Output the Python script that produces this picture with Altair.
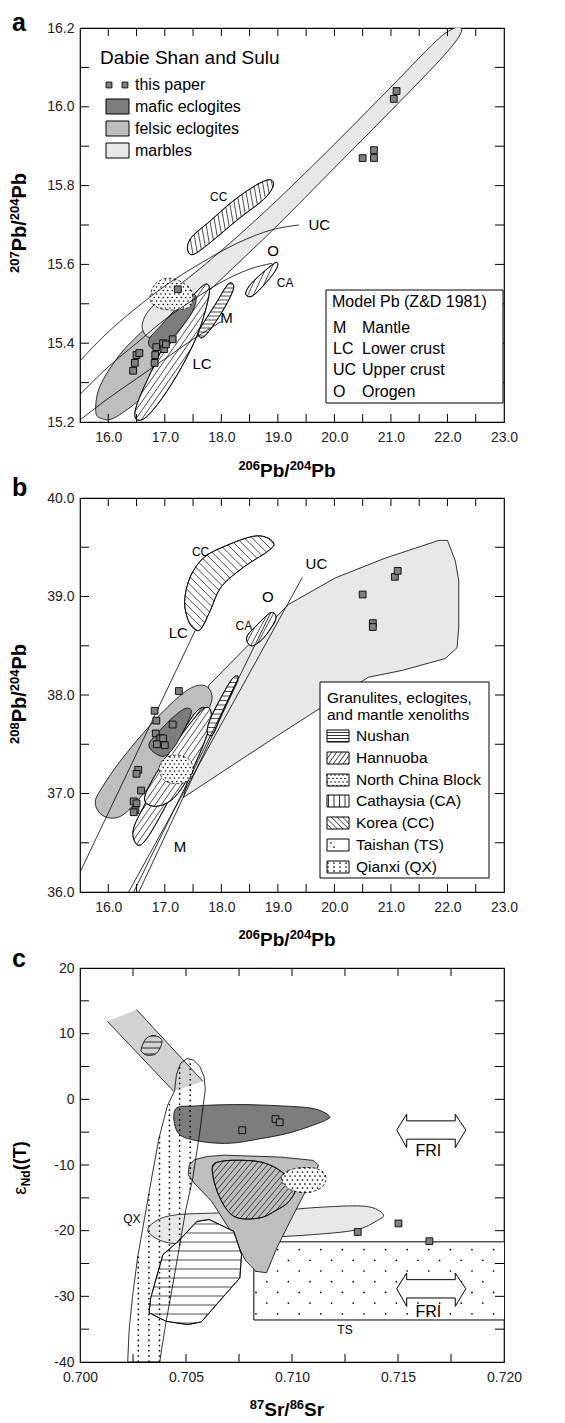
import altair as alt
import numpy as np
import pandas as pd

FONT = "Liberation Sans"
W, H, TL = 424, 394, 8
DARK, MID, LIGHT, BAND = "#7d7d7d", "#bebebe", "#e8e8e8", "#d2d2d2"

# ---------------- Panel a : 207Pb/204Pb vs 206Pb/204Pb ----------------
A_XDOM = [15.5, 23.0]
A_YDOM = [15.2, 16.2]
A_XLAB = [16.0, 17.0, 18.0, 19.0, 20.0, 21.0, 22.0, 23.0]
A_YLAB = [15.2, 15.4, 15.6, 15.8, 16.0, 16.2]
A_XTICK = [16.0, 16.5, 17.0, 17.5, 18.0, 18.5, 19.0, 19.5, 20.0, 20.5, 21.0, 21.5, 22.0, 22.5]
A_YTICK = [15.3, 15.4, 15.5, 15.6, 15.7, 15.8, 15.9, 16.0, 16.1]

A_FELSIC_X = [15.78, 15.9, 16.1, 16.5, 16.95, 17.35, 17.62, 17.72, 17.62, 17.35, 17.0, 16.6, 16.2, 15.85]
A_FELSIC_Y = [15.225, 15.208, 15.21, 15.25, 15.31, 15.38, 15.45, 15.51, 15.535, 15.52, 15.48, 15.43, 15.37, 15.29]
A_MARBLE_X = [22.25, 22.0, 21.0, 20.0, 19.0, 18.2, 17.6, 17.1, 16.75, 16.6, 16.7, 17.0, 17.5, 18.2, 19.0, 20.0, 21.0, 21.9]
A_MARBLE_Y = [16.198, 16.14, 15.99, 15.845, 15.70, 15.59, 15.51, 15.455, 15.415, 15.44, 15.48, 15.52, 15.575, 15.66, 15.765, 15.905, 16.05, 16.18]
A_MAFIC_X = [16.72, 16.85, 17.1, 17.35, 17.52, 17.55, 17.42, 17.15, 16.9, 16.74]
A_MAFIC_Y = [15.395, 15.385, 15.41, 15.45, 15.49, 15.52, 15.52, 15.48, 15.44, 15.415]
A_HAN_X = [16.48, 16.65, 16.95, 17.3, 17.6, 17.78, 17.74, 17.5, 17.15, 16.8, 16.52]
A_HAN_Y = [15.21, 15.21, 15.26, 15.34, 15.43, 15.52, 15.55, 15.52, 15.44, 15.34, 15.25]
A_NUS_X = [17.62, 17.72, 17.95, 18.15, 18.22, 18.12, 17.9, 17.7, 17.6]
A_NUS_Y = [15.415, 15.42, 15.465, 15.515, 15.545, 15.55, 15.5, 15.455, 15.43]
A_CC_X = [17.4, 17.5, 17.8, 18.3, 18.75, 18.92, 18.85, 18.6, 18.2, 17.8, 17.48]
A_CC_Y = [15.64, 15.625, 15.655, 15.715, 15.765, 15.8, 15.815, 15.8, 15.76, 15.71, 15.67]
A_CA_X = [18.43, 18.55, 18.8, 18.98, 18.97, 18.78, 18.52]
A_CA_Y = [15.525, 15.52, 15.555, 15.59, 15.605, 15.585, 15.55]
A_NCB_X = [16.74, 16.83, 17.05, 17.3, 17.48, 17.45, 17.25, 16.95, 16.78]
A_NCB_Y = [15.52, 15.55, 15.565, 15.555, 15.53, 15.495, 15.485, 15.487, 15.5]
A_UC_X = [15.5, 15.9, 16.5, 17.0, 17.6, 18.3, 18.9, 19.37]
A_UC_Y = [15.355, 15.415, 15.49, 15.545, 15.6, 15.655, 15.688, 15.70]
A_O_X = [15.5, 16.0, 16.5, 17.0, 17.5, 18.0, 18.5, 18.9]
A_O_Y = [15.27, 15.34, 15.40, 15.46, 15.51, 15.555, 15.588, 15.603]
A_M_X = [15.5, 16.0, 16.5, 17.0, 17.5, 18.0]
A_M_Y = [15.205, 15.26, 15.31, 15.36, 15.41, 15.455]
A_PTS_X = [16.44, 16.47, 16.5, 16.55, 16.82, 16.83, 16.85, 16.97, 16.99, 17.02, 17.14, 17.23, 20.5, 20.7, 20.7, 21.05, 21.1]
A_PTS_Y = [15.33, 15.35, 15.37, 15.375, 15.35, 15.37, 15.39, 15.40, 15.385, 15.397, 15.41, 15.537, 15.87, 15.87, 15.89, 16.02, 16.04]

# ---------------- Panel b : 208Pb/204Pb vs 206Pb/204Pb ----------------
B_XDOM = [15.5, 23.0]
B_YDOM = [36.0, 40.0]
B_XLAB = A_XLAB
B_YLAB = [36.0, 37.0, 38.0, 39.0, 40.0]
B_XTICK = A_XTICK
B_YTICK = [36.5, 37.0, 37.5, 38.0, 38.5, 39.0, 39.5]

B_MARBLE_X = [17.33, 17.55, 17.78, 18.5, 19.19, 20.02, 20.9, 21.85, 22.0, 22.14, 22.2, 22.2, 22.17, 21.96, 21.2, 20.6, 19.0]
B_MARBLE_Y = [36.96, 37.5, 38.1, 38.52, 38.92, 39.19, 39.39, 39.57, 39.57, 39.36, 39.16, 38.69, 38.48, 38.37, 38.25, 38.18, 37.59]
B_FELSIC_X = [15.77, 15.85, 16.05, 16.3, 16.7, 17.2, 17.6, 17.82, 17.8, 17.65, 17.4, 17.0, 16.6, 16.2, 15.9]
B_FELSIC_Y = [36.92, 36.8, 36.75, 36.8, 37.05, 37.4, 37.7, 37.92, 38.05, 38.1, 38.05, 37.85, 37.6, 37.32, 37.07]
B_MAFIC_X = [16.72, 16.8, 17.0, 17.2, 17.4, 17.47, 17.35, 17.1, 16.85]
B_MAFIC_Y = [37.5, 37.42, 37.38, 37.5, 37.72, 37.84, 37.86, 37.75, 37.6]
B_HAN1_X = [16.48, 16.62, 16.9, 17.3, 17.6, 17.75, 17.65, 17.45, 17.1, 16.7, 16.45]
B_HAN1_Y = [36.5, 36.5, 36.75, 37.2, 37.6, 37.82, 37.87, 37.75, 37.4, 36.95, 36.65]
B_HAN2_X = [16.65, 16.85, 17.15, 17.45, 17.75, 17.82, 17.68, 17.3, 16.95, 16.7]
B_HAN2_Y = [36.92, 36.87, 36.95, 37.2, 37.6, 37.82, 37.86, 37.6, 37.3, 37.05]
B_NCB_X = [16.9, 16.98, 17.2, 17.42, 17.5, 17.42, 17.2, 16.98]
B_NCB_Y = [37.25, 37.35, 37.39, 37.35, 37.25, 37.13, 37.1, 37.14]
B_NUS_X = [17.75, 17.85, 18.0, 18.2, 18.3, 18.2, 18.0, 17.8]
B_NUS_Y = [37.62, 37.6, 37.8, 38.05, 38.18, 38.17, 37.98, 37.75]
B_CA_X = [18.45, 18.55, 18.75, 18.95, 18.95, 18.85, 18.65, 18.48]
B_CA_Y = [38.55, 38.5, 38.58, 38.75, 38.82, 38.83, 38.72, 38.62]
B_CC_X = [17.55, 17.42, 17.35, 17.45, 17.7, 18.1, 18.55, 18.8, 18.93, 18.8, 18.4, 18.0, 17.8, 17.65]
B_CC_Y = [38.66, 38.75, 38.95, 39.2, 39.4, 39.52, 39.61, 39.6, 39.53, 39.45, 39.3, 39.1, 38.85, 38.68]
B_LINES = {"UC": ([16.36, 19.43], [36.0, 39.19]),
           "O": ([16.45, 18.87], [36.0, 38.83]),
           "M": ([16.54, 18.3], [36.0, 38.15]),
           "LC": ([15.5, 17.55], [36.2, 38.67])}
B_PTS_X = [17.25, 16.82, 16.85, 16.84, 16.92, 16.97, 16.86, 17.0, 17.14, 16.53, 16.5, 16.58, 16.45, 16.5, 16.48, 16.45, 20.5, 21.07, 21.12, 20.68, 20.68]
B_PTS_Y = [38.04, 37.84, 37.74, 37.61, 37.56, 37.56, 37.5, 37.49, 37.7, 37.24, 37.2, 37.03, 36.92, 36.9, 36.83, 36.81, 39.02, 39.2, 39.26, 38.73, 38.69]

# ---------------- Panel c : eNd(T) vs 87Sr/86Sr ----------------
C_XDOM = [0.700, 0.720]
C_YDOM = [-40.0, 20.0]
C_XLAB = [0.700, 0.705, 0.710, 0.715, 0.720]
C_YLAB = [-40, -30, -20, -10, 0, 10, 20]
C_XTICK = [0.7025, 0.705, 0.7075, 0.710, 0.7125, 0.715, 0.7175]
C_YTICK = [-35, -30, -25, -20, -15, -10, -5, 0, 5, 10, 15]

C_BAND_X = [0.70129, 0.70267, 0.7058, 0.70442]
C_BAND_Y = [11.88, 13.65, 2.74, 1.22]
C_CIRC_X = [0.7029, 0.7031, 0.70345, 0.7038, 0.70385, 0.7036, 0.7032, 0.70292]
C_CIRC_Y = [7.8, 9.2, 9.7, 9.3, 8.4, 7.0, 6.7, 7.2]
C_QX_X = [0.70225, 0.70232, 0.70248, 0.70272, 0.70305, 0.70338, 0.70372, 0.70412, 0.70446, 0.70455, 0.70475, 0.70505,
          0.70535, 0.70565, 0.70585, 0.70591, 0.70585, 0.70565, 0.70532, 0.70498, 0.7045, 0.704, 0.70376]
C_QX_Y = [-40, -35, -30, -24, -18, -12, -6, -1, 1.3, 3.8, 5.5, 6.2, 6.0, 5.0, 3.5, 1.5, 0, -5, -12, -17, -26, -35, -40]
C_MAFIC_X = [0.7045, 0.7055, 0.7075, 0.7095, 0.7110, 0.71175, 0.7115, 0.7100, 0.7085, 0.7070, 0.7055, 0.7046]
C_MAFIC_Y = [-1.5, -1.0, -0.8, -1.0, -1.4, -2.5, -3.3, -5.0, -6.0, -6.7, -6.3, -5.0]
C_FELSIC_X = [0.70515, 0.7054, 0.7060, 0.7068, 0.7095, 0.7110, 0.71125, 0.7108, 0.7100, 0.7093, 0.7088, 0.7083, 0.7078, 0.7070, 0.7062, 0.7054, 0.7051]
C_FELSIC_Y = [-10.0, -9.2, -8.7, -8.5, -8.8, -9.3, -10.0, -13.0, -18.0, -22.5, -26.4, -26.2, -24.5, -19.5, -15.5, -12.8, -11.5]
C_HAN_X = [0.70624, 0.70667, 0.7078, 0.70871, 0.7095, 0.71016, 0.70987, 0.7092, 0.70842, 0.70725, 0.70653]
C_HAN_Y = [-10.46, -9.44, -9.3, -9.7, -11.0, -13.2, -15.5, -17.0, -18.1, -17.8, -14.5]
C_NCB_X = [0.7095, 0.7098, 0.7105, 0.7112, 0.7116, 0.7114, 0.7107, 0.7099]
C_NCB_Y = [-12.2, -10.9, -10.4, -10.6, -11.8, -13.4, -14.2, -13.7]
C_MARBLE_X = [0.7032, 0.7036, 0.7045, 0.7065, 0.7090, 0.7115, 0.7135, 0.7143, 0.7140, 0.7130, 0.7110, 0.7090, 0.7065, 0.7048, 0.7038]
C_MARBLE_Y = [-20.0, -18.5, -17.6, -17.3, -17.0, -16.4, -16.3, -17.5, -18.5, -19.9, -20.6, -21.0, -21.5, -22.0, -21.5]
C_NUS_X = [0.70326, 0.70333, 0.70391, 0.70464, 0.70551, 0.70609, 0.70725, 0.70762, 0.70754, 0.70572, 0.70509, 0.70406]
C_NUS_Y = [-32.5, -30.3, -23.65, -21.6, -18.6, -18.3, -20.1, -23.65, -27.2, -33.9, -34.3, -33.8]
C_TS_X = [0.7082, 0.7200, 0.7200, 0.7082]
C_TS_Y = [-21.7, -21.7, -33.6, -33.6]
C_ARR1_X = [0.71494, 0.71541, 0.71541, 0.7177, 0.7177, 0.7182, 0.7177, 0.7177, 0.71541, 0.71541]
C_ARR1_Y = [-4.67, -2.27, -3.28, -3.28, -2.27, -4.67, -7.34, -6.07, -6.07, -7.34]
C_ARR2_X = C_ARR1_X
C_ARR2_Y = [-28.85, -26.45, -27.46, -27.46, -26.45, -28.85, -31.52, -30.25, -30.25, -31.52]
C_QX_LINES_X = [0.70275, 0.70325, 0.70375, 0.70422, 0.7047, 0.7052, 0.70565]
C_PTS_X = [0.70765, 0.70922, 0.70942, 0.7131, 0.71502, 0.71648]
C_PTS_Y = [-4.7, -3.0, -3.5, -20.2, -18.9, -21.6]

# glyph advance widths (em) of Liberation Sans Bold, used to lay out composite titles
CHAR_W = {"0": .556, "1": .556, "2": .556, "3": .556, "4": .556, "5": .556, "6": .556, "7": .556, "8": .556,
          "9": .556, "P": .667, "b": .611, "/": .278, "S": .667, "r": .389, "N": .722, "d": .611, "(": .333,
          ")": .333, "T": .611, "ε": .46}


# ---------------- geometry helpers (patterns only) ----------------
def smooth(P, k=10):
    P = np.asarray(P, float)
    N = len(P)
    out = []
    for i in range(N):
        p0, p1, p2, p3 = P[i - 1], P[i], P[(i + 1) % N], P[(i + 2) % N]
        b1 = p1 + (p2 - p0) / 6.0
        b2 = p2 - (p3 - p1) / 6.0
        for t in np.linspace(0, 1, k, endpoint=False):
            out.append((1 - t) ** 3 * p1 + 3 * (1 - t) ** 2 * t * b1 + 3 * (1 - t) * t ** 2 * b2 + t ** 3 * p2)
    return np.array(out)


def hatch(P, ang, sp, off=0.0):
    P = np.asarray(P, float)
    a = np.deg2rad(ang)
    d = np.array([np.cos(a), -np.sin(a)])
    n = np.array([np.sin(a), np.cos(a)])
    s = P @ n
    t = P @ d
    N = len(P)
    segs = []
    c0 = np.ceil((s.min() - off) / sp) * sp + off
    for c in np.arange(c0, s.max(), sp):
        ts = []
        for i in range(N):
            s1, s2 = s[i], s[(i + 1) % N]
            if (s1 - c) * (s2 - c) < 0:
                ts.append(t[i] + (c - s1) / (s2 - s1) * (t[(i + 1) % N] - t[i]))
        ts.sort()
        for k in range(0, len(ts) - 1, 2):
            segs.append((c * n + ts[k] * d, c * n + ts[k + 1] * d))
    return segs


def inside(pt, P):
    x, y = pt
    c = False
    N = len(P)
    for i in range(N):
        x1, y1 = P[i]
        x2, y2 = P[(i + 1) % N]
        if (y1 > y) != (y2 > y):
            xi = x1 + (y - y1) / (y2 - y1) * (x2 - x1)
            if x < xi:
                c = not c
    return c


def lattice(P, dx, dy, stagger=True, ox=0.0, oy=0.0):
    P = np.asarray(P, float)
    pts = []
    for j in range(int(np.floor((P[:, 1].min() - oy) / dy)), int(np.ceil((P[:, 1].max() - oy) / dy)) + 1):
        yy = oy + j * dy
        sh = dx / 2 if (stagger and j % 2) else 0.0
        for i in range(int(np.floor((P[:, 0].min() - ox - sh) / dx)), int(np.ceil((P[:, 0].max() - ox - sh) / dx)) + 1):
            xx = ox + sh + i * dx
            if inside((xx, yy), P):
                pts.append((xx, yy))
    return pts


class Panel:
    def __init__(self, xdom, ydom, xlab, ylab, xfmt, yfmt=None, yexpr=None):
        self.xdom, self.ydom = xdom, ydom
        self.xs = alt.Scale(domain=xdom, nice=False, zero=False)
        self.ys = alt.Scale(domain=ydom, nice=False, zero=False)
        common = dict(ticks=False, domain=False, grid=False, labelFont=FONT, labelFontSize=14,
                      labelColor="#222", labelFlush=False)
        self.xax = alt.Axis(values=xlab, format=xfmt, labelPadding=8, **common)
        if yexpr:
            self.yax = alt.Axis(values=ylab, labelExpr=yexpr, labelPadding=6, **common)
        else:
            self.yax = alt.Axis(values=ylab, format=yfmt, labelPadding=6, **common)
        self.layers = []

    def X(self, f="x"):
        return alt.X(f + ":Q", scale=self.xs, axis=self.xax, title="")

    def Y(self, f="y"):
        return alt.Y(f + ":Q", scale=self.ys, axis=self.yax, title="")

    def topx(self, x, y):
        return ((x - self.xdom[0]) / (self.xdom[1] - self.xdom[0]) * W,
                (self.ydom[1] - y) / (self.ydom[1] - self.ydom[0]) * H)

    def todata(self, px, py):
        return (self.xdom[0] + px / W * (self.xdom[1] - self.xdom[0]),
                self.ydom[1] - py / H * (self.ydom[1] - self.ydom[0]))

    def poly(self, xs, ys, fill=None, interp="cardinal-closed", sw=0.8, dash=None, stroke="black", sop=1.0):
        df = pd.DataFrame({"o": range(len(xs)), "x": xs, "y": ys})
        kw = dict(interpolate=interp, stroke=stroke, strokeWidth=sw, clip=True, strokeOpacity=sop)
        if fill:
            kw["fill"] = fill
        if dash:
            kw["strokeDash"] = dash
        self.layers.append(alt.Chart(df).mark_line(**kw).encode(x=self.X(), y=self.Y(), order="o:Q"))

    def line(self, xs, ys, interp="linear", sw=0.8):
        df = pd.DataFrame({"o": range(len(xs)), "x": xs, "y": ys})
        self.layers.append(alt.Chart(df).mark_line(interpolate=interp, color="black", strokeWidth=sw, clip=True)
                           .encode(x=self.X(), y=self.Y(), order="o:Q"))

    def shape_px(self, xs, ys, interp):
        P = np.array([self.topx(x, y) for x, y in zip(xs, ys)])
        if interp == "cardinal-closed":
            P = smooth(P)
        return P

    def segs_layer(self, segs, sw=0.7, dash=None):
        rows = []
        for p1, p2 in segs:
            x1, y1 = self.todata(*p1)
            x2, y2 = self.todata(*p2)
            rows.append({"x": x1, "y": y1, "x2": x2, "y2": y2})
        if not rows:
            return
        kw = dict(color="black", strokeWidth=sw, clip=True)
        if dash:
            kw["strokeDash"] = dash
        self.layers.append(alt.Chart(pd.DataFrame(rows)).mark_rule(**kw)
                           .encode(x=self.X(), y=self.Y(), x2=alt.X2("x2:Q"), y2=alt.Y2("y2:Q")))

    def hatched(self, xs, ys, ang, sp, interp="cardinal-closed", fill="white", sw=0.7, off=0.0):
        self.poly(xs, ys, fill=fill, interp=interp)
        self.segs_layer(hatch(self.shape_px(xs, ys, interp), ang, sp, off), sw=sw)
        self.poly(xs, ys, interp=interp)

    def dots_px(self, pts, size=3.0):
        if not pts:
            return
        rows = [dict(zip(("x", "y"), self.todata(*p))) for p in pts]
        self.layers.append(alt.Chart(pd.DataFrame(rows)).mark_circle(size=size, color="black", opacity=1, clip=True)
                           .encode(x=self.X(), y=self.Y()))

    def dotted(self, xs, ys, dx, dy, size=3.0, interp="cardinal-closed", fill="white", dash=None, ox=0.0, oy=0.0):
        self.poly(xs, ys, fill=fill, interp=interp, dash=dash)
        self.dots_px(lattice(self.shape_px(xs, ys, interp), dx, dy, True, ox, oy), size)

    def squares(self, xs, ys, size=46):
        df = pd.DataFrame({"x": xs, "y": ys})
        self.layers.append(alt.Chart(df).mark_square(size=size, fill="#808080", stroke="black", strokeWidth=0.9, opacity=1)
                           .encode(x=self.X(), y=self.Y()))

    def ticks(self, xt, yt):
        dfx = pd.DataFrame({"x": xt})
        dfy = pd.DataFrame({"y": yt})
        r = dict(color="black", strokeWidth=1)
        self.layers += [
            alt.Chart(dfx).mark_rule(**r).encode(x=self.X(), y=alt.value(H), y2=alt.value(H - TL)),
            alt.Chart(dfx).mark_rule(**r).encode(x=self.X(), y=alt.value(0), y2=alt.value(TL)),
            alt.Chart(dfy).mark_rule(**r).encode(y=self.Y(), x=alt.value(0), x2=alt.value(TL + 1)),
            alt.Chart(dfy).mark_rule(**r).encode(y=self.Y(), x=alt.value(W), x2=alt.value(W - TL - 1)),
        ]

    def txt(self, px, py, text, size=14, bold=False, align="left", baseline="middle", angle=0, color="black"):
        kw = dict(font=FONT, fontSize=size, align=align, baseline=baseline, color=color)
        if bold:
            kw["fontWeight"] = "bold"
        if angle:
            kw["angle"] = angle
        self.layers.append(alt.Chart(pd.DataFrame({"t": [text]})).mark_text(**kw)
                           .encode(x=alt.value(px), y=alt.value(py), text="t:N"))

    def comp(self, parts, cx, cy, rotated=False):
        """parts: (text, fontsize, raise_px, bold); laid out centred on (cx, cy), baseline at cy (or cx)."""
        widths = [sum(CHAR_W.get(ch, .556) for ch in t) * s for t, s, r, b in parts]
        total = sum(widths)
        pos = (cy + total / 2) if rotated else (cx - total / 2)
        for (t, s, r, b), w in zip(parts, widths):
            if rotated:
                self.txt(cx - r, pos, t, s, bold=b, align="left", baseline="alphabetic", angle=270)
                pos -= w
            else:
                self.txt(pos, cy - r, t, s, bold=b, align="left", baseline="alphabetic")
                pos += w

    def dtxt(self, x, y, text, size=14, align="left", baseline="middle"):
        self.layers.append(alt.Chart(pd.DataFrame({"x": [x], "y": [y], "t": [text]}))
                           .mark_text(font=FONT, fontSize=size, align=align, baseline=baseline, color="black")
                           .encode(x=self.X(), y=self.Y(), text="t:N"))

    def rect_px(self, x1, y1, x2, y2, fill="white", sw=1.0):
        self.layers.append(alt.Chart(pd.DataFrame({"a": [0]})).mark_rect(fill=fill, stroke="black", strokeWidth=sw)
                           .encode(x=alt.value(x1), x2=alt.value(x2), y=alt.value(y1), y2=alt.value(y2)))

    def chart(self):
        return alt.layer(*self.layers).properties(width=W, height=H)


TX = -54   # baseline of the rotated y titles (px from plot left)

# ================= Panel a =================
pa = Panel(A_XDOM, A_YDOM, A_XLAB, A_YLAB, ".1f", yfmt=".1f")
pa.poly(A_FELSIC_X, A_FELSIC_Y, fill=MID)
pa.poly(A_MARBLE_X, A_MARBLE_Y, fill=LIGHT)
pa.hatched(A_HAN_X, A_HAN_Y, 55, 5.0)
pa.hatched(A_NUS_X, A_NUS_Y, 0, 4.0)
pa.poly(A_MAFIC_X, A_MAFIC_Y, fill=DARK)
pa.dotted(A_NCB_X, A_NCB_Y, 4.5, 3.5, size=2.5, dash=[3, 2])
pa.hatched(A_CC_X, A_CC_Y, 100, 4.5)
pa.hatched(A_CA_X, A_CA_Y, 65, 5.0)
pa.line(A_UC_X, A_UC_Y, interp="monotone")
pa.line(A_O_X, A_O_Y, interp="monotone")
pa.line(A_M_X, A_M_Y, interp="monotone")
pa.squares(A_PTS_X, A_PTS_Y)
pa.ticks(A_XTICK, A_YTICK)
pa.dtxt(17.8, 15.77, "CC", 12)
pa.dtxt(19.54, 15.70, "UC", 15)
pa.dtxt(18.81, 15.635, "O", 15)
pa.dtxt(18.98, 15.552, "CA", 12)
pa.dtxt(17.98, 15.463, "M", 15)
pa.dtxt(17.49, 15.348, "LC", 15)
pa.txt(20, 30, "Dabie Shan and Sulu", 19)
for sx in (29, 45):
    pa.layers.append(alt.Chart(pd.DataFrame({"a": [0]})).mark_square(size=34, fill="#808080", stroke="black", strokeWidth=0.9, opacity=1)
                     .encode(x=alt.value(sx), y=alt.value(57)))
pa.txt(55, 57, "this paper", 16)
for (y1, y2), col, lab in zip([(71, 86), (93, 108), (115, 130)], [DARK, MID, LIGHT],
                              ["mafic eclogites", "felsic eclogites", "marbles"]):
    pa.rect_px(26, y1, 49, y2, fill=col)
    pa.txt(55, (y1 + y2) / 2, lab, 16)
pa.rect_px(246, 262, 423, 375)
pa.txt(252, 274, "Model Pb (Z&D 1981)", 16)
for yy, ab, nm in zip([300, 321, 342, 364], ["M", "LC", "UC", "O"], ["Mantle", "Lower crust", "Upper crust", "Orogen"]):
    pa.txt(253, yy, ab, 16)
    pa.txt(282, yy, nm, 16)
pa.txt(-68, 3, "a", 25, bold=True, baseline="alphabetic")
pa.comp([("207", 13, 7, True), ("Pb/", 20, 0, True), ("204", 13, 7, True), ("Pb", 20, 0, True)], TX, 195, rotated=True)
pa.comp([("206", 13, 7, True), ("Pb/", 19, 0, True), ("204", 13, 7, True), ("Pb", 19, 0, True)], 207, 449)

# ================= Panel b =================
pb = Panel(B_XDOM, B_YDOM, B_XLAB, B_YLAB, ".1f", yfmt=".1f")
pb.poly(B_MARBLE_X, B_MARBLE_Y, fill=LIGHT, interp="linear-closed")
pb.poly(B_FELSIC_X, B_FELSIC_Y, fill=MID)
pb.hatched(B_HAN1_X, B_HAN1_Y, 55, 5.0)
pb.hatched(B_HAN2_X, B_HAN2_Y, 55, 5.0, off=2.5)
pb.hatched(B_NUS_X, B_NUS_Y, 0, 4.5)
pb.hatched(B_CA_X, B_CA_Y, 62, 5.0)
pb.hatched(B_CC_X, B_CC_Y, 135, 5.5)
pb.poly(B_MAFIC_X, B_MAFIC_Y, fill=DARK)
pb.dotted(B_NCB_X, B_NCB_Y, 4.5, 3.5, size=2.5, dash=[3, 2])
for k, (lx, ly) in B_LINES.items():
    pb.line(lx, ly)
pb.squares(B_PTS_X, B_PTS_Y)
pb.ticks(B_XTICK, B_YTICK)
pb.dtxt(17.48, 39.45, "CC", 12)
pb.dtxt(19.49, 39.33, "UC", 15)
pb.dtxt(18.72, 39.0, "O", 15)
pb.dtxt(18.25, 38.70, "CA", 12)
pb.dtxt(17.07, 38.63, "LC", 15)
pb.dtxt(17.16, 36.46, "M", 15)
pb.rect_px(240, 184, 409, 380)
pb.txt(247, 200, "Granulites, eclogites,", 15.5)
pb.txt(247, 217, "and mantle xenoliths", 15.5)
rows_y = [238, 260, 282, 303, 325, 347, 369]
names = ["Nushan", "Hannuoba", "North China Block", "Cathaysia (CA)", "Korea (CC)", "Taishan (TS)", "Qianxi (QX)"]
for yy, nm in zip(rows_y, names):
    pb.rect_px(247, yy - 6, 269, yy + 6)
    pb.txt(276, yy, nm, 15.5)
sw_boxes = [np.array([[247, yy - 6], [269, yy - 6], [269, yy + 6], [247, yy + 6]], float) for yy in rows_y]
pb.segs_layer(hatch(sw_boxes[0], 0, 3.0, off=0.5) + hatch(sw_boxes[1], 55, 4.0)
              + hatch(sw_boxes[3], 90, 5.5, off=1.0) + hatch(sw_boxes[4], 135, 4.0), sw=0.8)
pb.dots_px(lattice(sw_boxes[2], 4.0, 3.5, True, 1.0, 0.5), 2.5)
pb.dots_px([(251, rows_y[5] - 2), (254, rows_y[5] + 2)], 3)
pb.dots_px(lattice(sw_boxes[6], 6.0, 4.0, False, 2.0, 1.0), 3)
pb.txt(-68, -2, "b", 25, bold=True, baseline="alphabetic")
pb.comp([("208", 13, 7, True), ("Pb/", 20, 0, True), ("204", 13, 7, True), ("Pb", 20, 0, True)], TX, 196, rotated=True)
pb.comp([("206", 13, 7, True), ("Pb/", 19, 0, True), ("204", 13, 7, True), ("Pb", 19, 0, True)], 207, 448)

# ================= Panel c =================
yexpr = "datum.value < 0 ? '-' + format(-datum.value, 'd') : format(datum.value, 'd')"
pc = Panel(C_XDOM, C_YDOM, C_XLAB, C_YLAB, ".3f", yexpr=yexpr)
pc.poly(C_BAND_X, C_BAND_Y, fill=BAND, interp="linear-closed", sop=0.0)
pc.line([C_BAND_X[0], C_BAND_X[3]], [C_BAND_Y[0], C_BAND_Y[3]])
pc.line([C_BAND_X[1], C_BAND_X[2]], [C_BAND_Y[1], C_BAND_Y[2]])
pc.poly(C_CIRC_X, C_CIRC_Y)
pc.segs_layer(hatch(pc.shape_px(C_CIRC_X, C_CIRC_Y, "cardinal-closed"), 0, 6.0, off=2.0), sw=0.8)
pc.poly(C_TS_X, C_TS_Y, fill="white", interp="linear-closed", sop=0.0)
pc.dots_px(lattice(pc.shape_px(C_TS_X, C_TS_Y, "linear-closed"), 21.6, 10.7, True, 176.0, 281.6), 3)
pc.line([0.7200, 0.7082, 0.7082, 0.7200], [-21.7, -21.7, -33.6, -33.6], sw=1.0)
pc.poly(C_MARBLE_X, C_MARBLE_Y, fill=LIGHT)
pc.poly(C_FELSIC_X, C_FELSIC_Y, fill=MID, interp="linear-closed")
pc.hatched(C_HAN_X, C_HAN_Y, 50, 4.5, fill=MID)
pc.dotted(C_NCB_X, C_NCB_Y, 5.0, 4.0, size=3, dash=[3, 2], fill="white")
pc.poly(C_MAFIC_X, C_MAFIC_Y, fill=DARK)
pc.hatched(C_NUS_X, C_NUS_Y, 0, 9.0, interp="linear-closed", off=4.0)
pc.poly(C_QX_X, C_QX_Y, interp="linear-closed")
qx_px = pc.shape_px(C_QX_X, C_QX_Y, "linear-closed")
qsegs = []
for xv in C_QX_LINES_X:
    px0 = pc.topx(xv, 0)[0]
    qsegs += hatch(qx_px, 90, 1000.0, off=px0)
pc.segs_layer(qsegs, sw=1.5, dash=[1.6, 3.6])
pc.poly(C_ARR1_X, C_ARR1_Y, fill="white", interp="linear-closed", sw=1.0)
pc.poly(C_ARR2_X, C_ARR2_Y, fill="white", interp="linear-closed", sw=1.0)
pc.squares(C_PTS_X, C_PTS_Y)
pc.ticks(C_XTICK, C_YTICK)
pc.dtxt(0.71643, -7.9, "FRI", 16, align="center")
pc.dtxt(0.71643, -32.4, "FRI", 16, align="center")
pc.dtxt(0.70245, -18.2, "QX", 12, align="center")
pc.dtxt(0.7125, -35.2, "TS", 12, align="center")
pc.txt(-68, -1, "c", 25, bold=True, baseline="alphabetic")
pc.comp([("ε", 18, 0, False), ("Nd", 12, -4, True), ("((T)", 18, 0, True)], TX, 200, rotated=True)
pc.comp([("87", 13, 7, True), ("Sr/", 19, 0, True), ("86", 13, 7, True), ("Sr", 19, 0, True)], 207, 448)

chart = alt.vconcat(pa.chart(), pb.chart(), pc.chart(), spacing=76, bounds="flush").properties(
    padding={"left": 0, "top": 2, "right": 4, "bottom": 2}
).configure_view(stroke="black", strokeWidth=1.2)

chart.save("out.html", embed_options={"renderer": "svg", "actions": False})
